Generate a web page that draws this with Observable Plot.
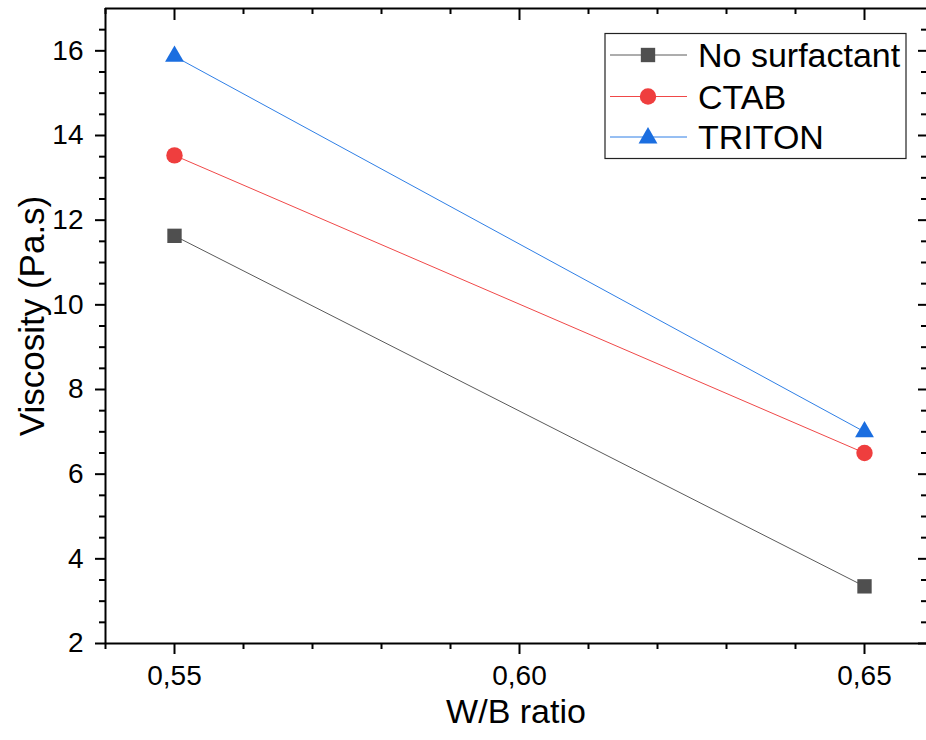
<!DOCTYPE html>
<html>
<head>
<meta charset="utf-8">
<script src="https://cdn.jsdelivr.net/npm/d3@7"></script>
<script src="https://cdn.jsdelivr.net/npm/@observablehq/plot@0.6"></script>
<style>
  html, body { margin: 0; padding: 0; background: #fff; }
  svg { display: block; }
</style>
</head>
<body>
<div id="chart"></div>
<script>
// ---- data ----
const ratios = [0.55, 0.65];
const seriesNames = ["No surfactant", "CTAB", "TRITON"];
const noSurfactant = [11.63, 3.35];
const ctab = [13.53, 6.50];
const triton = [15.87, 7.00];
const yMajorTicks = [2, 4, 6, 8, 10, 12, 14, 16];
const yMinorTicks = [2.5, 3, 3.5, 4.5, 5, 5.5, 6.5, 7, 7.5, 8.5, 9, 9.5, 10.5, 11, 11.5, 12.5, 13, 13.5, 14.5, 15, 15.5, 16.5];
const xMajorTicks = [0.55, 0.60, 0.65];
const xMinorTicks = [0.54, 0.56, 0.57, 0.58, 0.59, 0.61, 0.62, 0.63, 0.64];
const xLabel = "W/B ratio";
const yLabel = "Viscosity (Pa.s)";

const colors = {"No surfactant": "#4f4f4f", "CTAB": "#ef3e3e", "TRITON": "#1b6ee0"};
const lineColors = {"No surfactant": "#5a5a5a", "CTAB": "#f04848", "TRITON": "#2f7fe6"};
const symbols = {"No surfactant": "square", "CTAB": "circle", "TRITON": "triangle"};
const radii = {"No surfactant": 8.1, "CTAB": 8.2, "TRITON": 7.0};

const rows = [];
[noSurfactant, ctab, triton].forEach((vals, i) => {
  ratios.forEach((r, j) => rows.push({series: seriesNames[i], x: r, y: vals[j]}));
});

const W = 926, H = 740;
const mL = 105, mR = 0, mT = 8, mB = 97;
const pw = W - mL - mR, ph = H - mT - mB;
const font = "'Liberation Sans', Arial, Helvetica, sans-serif";
const fmt = d => d3.format(".2f")(d).replace(".", ",");

const marks = [];
// frame lines (left, bottom, top)
marks.push(Plot.ruleY([2, 17], {stroke: "#000", strokeWidth: 2}));
marks.push(Plot.ruleX([0.54], {stroke: "#000", strokeWidth: 2}));
// left ticks (outward)
marks.push(Plot.tickY(yMajorTicks, {y: d => d, insetLeft: -10, insetRight: pw, stroke: "#000", strokeWidth: 2}));
marks.push(Plot.tickY(yMinorTicks, {y: d => d, insetLeft: -6, insetRight: pw, stroke: "#000", strokeWidth: 2}));
// right ticks (inward)
marks.push(Plot.tickY(yMajorTicks, {y: d => d, insetLeft: pw - 8, insetRight: 0, stroke: "#000", strokeWidth: 2}));
marks.push(Plot.tickY(yMinorTicks, {y: d => d, insetLeft: pw - 5, insetRight: 0, stroke: "#000", strokeWidth: 2}));
// bottom ticks (outward)
marks.push(Plot.tickX(xMajorTicks, {x: d => d, insetTop: ph, insetBottom: -11, stroke: "#000", strokeWidth: 2}));
marks.push(Plot.tickX(xMinorTicks, {x: d => d, insetTop: ph, insetBottom: -6, stroke: "#000", strokeWidth: 2}));
// top ticks (inward)
marks.push(Plot.tickX(xMajorTicks, {x: d => d, insetTop: 0, insetBottom: ph - 12, stroke: "#000", strokeWidth: 2}));
marks.push(Plot.tickX(xMinorTicks, {x: d => d, insetTop: 0, insetBottom: ph - 6, stroke: "#000", strokeWidth: 2}));
// tick labels
marks.push(Plot.text(yMajorTicks, {x: () => 0.54, y: d => d, text: d => String(d), textAnchor: "end", dx: -22, fontSize: 28, fill: "#000"}));
marks.push(Plot.text(xMajorTicks, {x: d => d, y: () => 2, text: d => fmt(d), dy: 33, fontSize: 28, fill: "#000"}));
// axis titles
marks.push(Plot.text([yLabel], {frameAnchor: "left", textAnchor: "middle", dx: -73, dy: -10, rotate: -90, fontSize: 35, fill: "#000", text: d => d}));
marks.push(Plot.text([xLabel], {frameAnchor: "bottom", dy: 79, fontSize: 34, fill: "#000", text: d => d}));
// data
seriesNames.forEach(s => {
  const d = rows.filter(r => r.series === s);
  marks.push(Plot.line(d, {x: "x", y: "y", stroke: lineColors[s], strokeWidth: 1}));
});
seriesNames.forEach(s => {
  const d = rows.filter(r => r.series === s);
  marks.push(Plot.dot(d, {x: "x", y: "y", symbol: () => symbols[s], r: radii[s], fill: colors[s], stroke: "none"}));
});

const chart = Plot.plot({
  width: W, height: H,
  marginLeft: mL, marginRight: mR, marginTop: mT, marginBottom: mB,
  style: {fontFamily: font, background: "#fff", overflow: "visible"},
  x: {domain: [0.54, 0.54 + pw / 6900], axis: null},
  y: {domain: [2, 17], axis: null},
  marks
});
document.getElementById("chart").appendChild(chart);

// legend (inside plot area, top right)
const svg = d3.select(chart);
const lg = svg.append("g").attr("font-family", font).attr("text-anchor", "start");
lg.append("rect").attr("x", 605).attr("y", 33.5).attr("width", 301).attr("height", 125)
  .attr("fill", "#fff").attr("stroke", "#222").attr("stroke-width", 1.2);
const rowY = [55, 96.5, 137];
const symMap = {square: d3.symbolSquare, circle: d3.symbolCircle, triangle: d3.symbolTriangle};
seriesNames.forEach((s, i) => {
  const y = rowY[i];
  lg.append("line").attr("x1", 610).attr("x2", 687).attr("y1", y).attr("y2", y)
    .attr("stroke", lineColors[s]).attr("stroke-width", 1);
  const r = radii[s];
  lg.append("path").attr("transform", `translate(648,${y + (s === "TRITON" ? 1 : 0)})`)
    .attr("d", d3.symbol(symMap[symbols[s]], Math.PI * r * r)())
    .attr("fill", colors[s]);
  lg.append("text").attr("x", 698).attr("y", y).attr("dy", "0.36em")
    .attr("text-anchor", "start")
    .attr("font-size", 34).attr("fill", "#000").text(s);
});
</script>
</body>
</html>
